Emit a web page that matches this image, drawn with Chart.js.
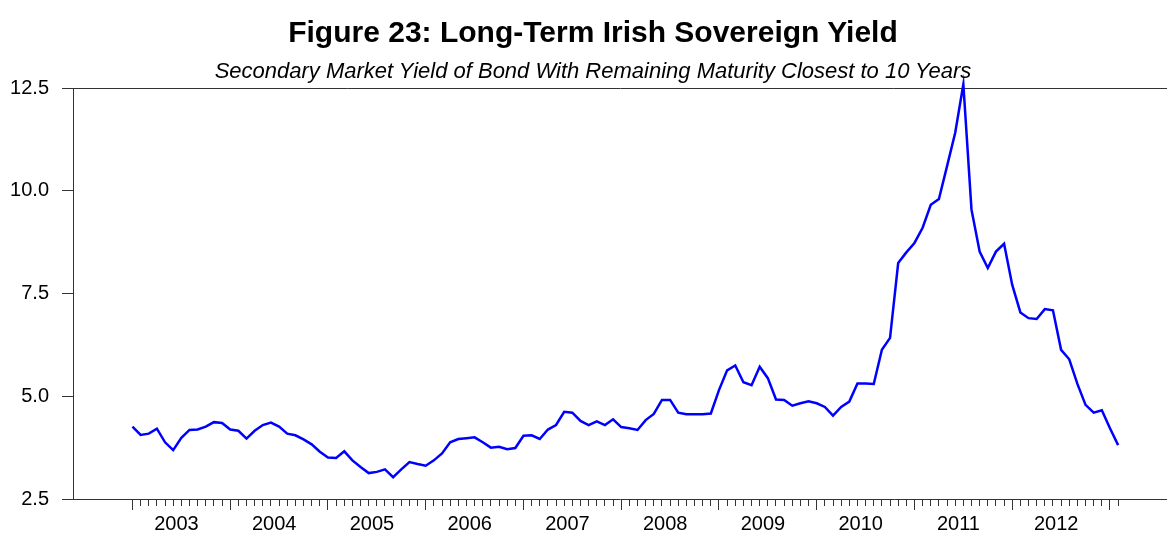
<!DOCTYPE html>
<html>
<head>
<meta charset="utf-8">
<script src="https://cdn.jsdelivr.net/npm/chart.js"></script>
<style>

body {
  margin: 0;
  background: #fff;
  font-family: "Liberation Sans", Arial, sans-serif;
}

.chart-container {
  position: relative;
  width: 1167px;
  height: 534px;
}

.chart-title {
  position: absolute;
  left: 0;
  width: 1186px;
  text-align: center;
  color: #000;
  white-space: nowrap;
}

#title {
  top: 14px;
  font-size: 30px;
  line-height: 36px;
  font-weight: bold;
}

#subtitle {
  top: 58px;
  font-size: 22px;
  line-height: 26px;
  font-style: italic;
}

</style>
</head>
<body>

<div class="chart-container">
  <canvas id="yieldChart"></canvas>
  <div class="chart-title" id="title"></div>
  <div class="chart-title" id="subtitle"></div>
</div>

<script>

// ==========================
// data (monthly, Jan 2003 - Feb 2013)
// ==========================

const titleText = "Figure 23: Long-Term Irish Sovereign Yield";
const subtitleText = "Secondary Market Yield of Bond With Remaining Maturity Closest to 10 Years";

const years = ["2003", "2004", "2005", "2006", "2007", "2008", "2009", "2010", "2011", "2012"];

const yTicks = [2.5, 5.0, 7.5, 10.0, 12.5];

const yields = [
  // 2003
  4.26, 4.06, 4.09, 4.21, 3.88, 3.69, 3.99, 4.18, 4.19, 4.26, 4.37, 4.35,
  // 2004
  4.19, 4.16, 3.97, 4.16, 4.30, 4.36, 4.26, 4.09, 4.05, 3.95, 3.83, 3.65,
  // 2005
  3.51, 3.50, 3.66, 3.44, 3.28, 3.13, 3.16, 3.22, 3.03, 3.22, 3.40, 3.35,
  // 2006
  3.31, 3.44, 3.61, 3.88, 3.96, 3.98, 4.00, 3.88, 3.75, 3.77, 3.71, 3.74,
  // 2007
  4.04, 4.05, 3.96, 4.19, 4.30, 4.62, 4.60, 4.40, 4.30, 4.39, 4.30, 4.44,
  // 2008
  4.25, 4.22, 4.18, 4.42, 4.57, 4.91, 4.91, 4.60, 4.56, 4.56, 4.56, 4.58,
  // 2009
  5.15, 5.63, 5.75, 5.34, 5.27, 5.72, 5.44, 4.92, 4.91, 4.77, 4.83, 4.88,
  // 2010
  4.83, 4.74, 4.53, 4.74, 4.87, 5.31, 5.31, 5.30, 6.13, 6.42, 8.24, 8.50,
  // 2011
  8.73, 9.10, 9.66, 9.80, 10.60, 11.41, 12.59, 9.54, 8.52, 8.12, 8.52, 8.71,
  // 2012
  7.71, 7.04, 6.90, 6.88, 7.12, 7.09, 6.13, 5.90, 5.30, 4.79, 4.60, 4.66,
  // 2013
  4.22, 3.81
];


// ==========================
// chart
// ==========================

const FONT = "'Liberation Sans', Arial, sans-serif";
const AXIS = "#333333";

document.getElementById("title").textContent = titleText;
document.getElementById("subtitle").textContent = subtitleText;

const points = yields.map((v, i) => ({ x: i, y: v }));

new Chart(document.getElementById("yieldChart"), {

  type: "line",

  data: {
    datasets: [{
      data: points,
      borderColor: "#0000ff",
      borderWidth: 2.5,
      pointRadius: 0,
      tension: 0,
      clip: false
    }]
  },

  options: {
    responsive: true,
    maintainAspectRatio: false,
    devicePixelRatio: 1,
    animation: false,
    layout: { padding: { top: 88, left: 0, right: 0, bottom: 0 } },

    plugins: {
      legend: { display: false },
      tooltip: { enabled: false },
      title: { display: false },
      subtitle: { display: false }
    },

    scales: {

      x: {
        type: "linear",
        min: -7.3,
        max: 127,
        afterBuildTicks: s => {
          s.ticks = yields.map((v, i) => ({ value: i }));
        },
        afterFit: s => { s.height = 35; },
        border: { color: AXIS, width: 1 },
        grid: {
          drawOnChartArea: false,
          tickLength: 11,
          tickColor: AXIS,
          tickBorderDash: ctx => (ctx.tick && ctx.tick.value % 12 === 0) ? [] : [6, 30]
        },
        ticks: {
          autoSkip: false,
          maxRotation: 0,
          minRotation: 0,
          padding: 2,
          labelOffset: 44,
          color: "#000",
          font: { family: FONT, size: 20 },
          callback: v => (v % 12 === 0 && years[v / 12]) ? years[v / 12] : ""
        }
      },

      y: {
        min: 2.5,
        max: 12.5,
        afterBuildTicks: s => {
          s.ticks = yTicks.map(v => ({ value: v }));
        },
        afterFit: s => { s.width = 73; },
        border: { color: AXIS, width: 1 },
        grid: {
          drawOnChartArea: true,
          tickLength: 11,
          tickColor: AXIS,
          color: ctx => (ctx.tick && ctx.tick.value === 12.5) ? AXIS : "rgba(0,0,0,0)"
        },
        ticks: {
          padding: 13,
          color: "#000",
          font: { family: FONT, size: 20 },
          callback: v => v.toFixed(1)
        }
      }

    }
  }

});

</script>

</body>
</html>
